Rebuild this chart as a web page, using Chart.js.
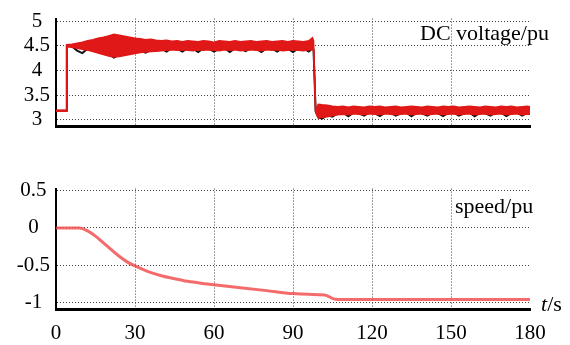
<!DOCTYPE html>
<html>
<head>
<meta charset="utf-8">
<script src="https://cdn.jsdelivr.net/npm/chart.js@4.4.1/dist/chart.umd.min.js"></script>
<style>
  body { margin: 0; background: #fff; }
  #wrap { position: relative; width: 570px; height: 345px; overflow: hidden; font-family: "Liberation Serif", serif; }
  .box { position: absolute; left: 0; width: 570px; }
  .lbl { position: absolute; font-size: 22px; line-height: 22px; color: #000; white-space: nowrap; }
</style>
</head>
<body>
<div id="wrap">
  <div class="box" style="top:0;height:145px"><canvas id="volt" width="570" height="145"></canvas></div>
  <div class="box" style="top:170px;height:175px"><canvas id="speed" width="570" height="175"></canvas></div>
  <div class="lbl" style="left:420px;top:22px">DC voltage/pu</div>
  <div class="lbl" style="left:455px;top:195px">speed/pu</div>
  <div class="lbl" style="left:541px;top:293px"><i>t</i>/s</div>
</div>
<script>
// time axis (s)
var timeTicks = [0, 30, 60, 90, 120, 150, 180];
var voltTicks = [3, 3.5, 4, 4.5, 5];
var speedTicks = [-1, -0.5, 0, 0.5];

// DC voltage: red band (upper / lower edge) + black trace behind it
var voltT = [0, 3.9, 4.1,
  6, 8, 10, 12, 14, 16, 18, 20, 22, 24, 26, 28, 30, 32, 34, 36, 38, 40,
  42, 44, 46, 48, 50, 52, 54, 56, 58, 60, 62, 64, 66, 68, 70, 72, 74, 76, 78, 80,
  82, 84, 86, 88, 90, 92, 94, 96, 97.4, 97.8, 98.6, 99.6,
  101, 103, 105, 107, 109, 111, 113, 115, 117, 119, 121, 123, 125, 127, 129, 131, 133, 135, 137, 139,
  141, 143, 145, 147, 149, 151, 153, 155, 157, 159, 161, 163, 165, 167, 169, 171, 173, 175, 177, 179, 180];
var voltUp = [3.19, 3.19, 4.52,
  4.53, 4.55, 4.57, 4.6, 4.62, 4.65, 4.67, 4.7, 4.73, 4.71, 4.69, 4.67, 4.65, 4.64, 4.62, 4.63, 4.61, 4.6,
  4.61, 4.59, 4.6, 4.58, 4.6, 4.59, 4.58, 4.6, 4.59, 4.57, 4.6, 4.59, 4.58, 4.6, 4.58, 4.59, 4.6, 4.58, 4.59, 4.6,
  4.58, 4.59, 4.6, 4.58, 4.6, 4.59, 4.58, 4.6, 4.66, 4.6, 3.19, 3.31,
  3.3, 3.29, 3.27, 3.26, 3.27, 3.25, 3.27, 3.26, 3.25, 3.27, 3.26, 3.27, 3.25, 3.26, 3.27, 3.25, 3.26, 3.27, 3.26, 3.25,
  3.27, 3.26, 3.25, 3.27, 3.26, 3.27, 3.25, 3.26, 3.27, 3.26, 3.25, 3.27, 3.26, 3.25, 3.27, 3.26, 3.27, 3.25, 3.26, 3.27, 3.26];
var voltLo = [3.17, 3.17, 4.48,
  4.47, 4.45, 4.43, 4.41, 4.38, 4.35, 4.32, 4.29, 4.27, 4.28, 4.3, 4.32, 4.34, 4.36, 4.37, 4.38, 4.39, 4.4,
  4.41, 4.42, 4.41, 4.42, 4.41, 4.4, 4.42, 4.41, 4.42, 4.41, 4.4, 4.42, 4.41, 4.42, 4.4, 4.41, 4.42, 4.41, 4.4, 4.42,
  4.41, 4.42, 4.4, 4.41, 4.42, 4.41, 4.4, 4.42, 4.42, 4.4, 3.15, 3.03,
  3.05, 3.06, 3.08, 3.1, 3.11, 3.1, 3.12, 3.11, 3.1, 3.12, 3.11, 3.1, 3.12, 3.11, 3.1, 3.11, 3.12, 3.1, 3.11, 3.12,
  3.1, 3.11, 3.12, 3.1, 3.11, 3.12, 3.1, 3.11, 3.12, 3.1, 3.11, 3.12, 3.1, 3.11, 3.12, 3.1, 3.11, 3.12, 3.1, 3.11, 3.11];
var voltBlack = [3.18, 3.18, 4.5,
  4.49, 4.4, 4.35, 4.44, 4.41, 4.38, 4.36, 4.33, 4.26, 4.32, 4.34, 4.37, 4.38, 4.4, 4.36, 4.41, 4.42, 4.44,
  4.38, 4.45, 4.44, 4.38, 4.45, 4.44, 4.37, 4.45, 4.44, 4.38, 4.44, 4.45, 4.37, 4.45, 4.44, 4.39, 4.45, 4.44, 4.37, 4.45,
  4.44, 4.38, 4.45, 4.44, 4.37, 4.45, 4.44, 4.38, 4.45, 4.42, 3.17, 3.05,
  3.02, 3.09, 3.06, 3.13, 3.14, 3.07, 3.14, 3.13, 3.08, 3.14, 3.13, 3.07, 3.14, 3.14, 3.08, 3.13, 3.14, 3.07, 3.14, 3.13,
  3.08, 3.14, 3.13, 3.07, 3.14, 3.14, 3.08, 3.13, 3.14, 3.07, 3.14, 3.13, 3.08, 3.14, 3.14, 3.07, 3.13, 3.14, 3.08, 3.14, 3.13];

// rotor speed
var speedT = [0, 9, 12, 15, 18, 21, 24, 27, 30, 35, 40, 45, 50, 55, 60, 70, 80, 90, 96, 102, 106, 110, 180];
var speedV = [0, 0, -0.04, -0.11, -0.2, -0.29, -0.38, -0.455, -0.51, -0.585, -0.64, -0.68, -0.715, -0.74, -0.76,
  -0.8, -0.84, -0.88, -0.89, -0.897, -0.955, -0.958, -0.958];

function pts(xs, ys) {
  return xs.map(function (x, i) { return {x: x, y: ys[i]}; });
}

var tickFont = {family: "Liberation Serif", size: 21};
var gridColor = function (ctx) {
  var v = ctx.tick && ctx.tick.value;
  return (v === 0 || v === 180) ? 'rgba(0,0,0,0)' : '#444';
};

function xScale(showLabels) {
  return {
    type: 'linear', min: 0, max: 180,
    afterBuildTicks: function (s) { s.ticks = timeTicks.map(function (v) { return {value: v}; }); },
    afterFit: function (s) { s.height = showLabels ? 36 : 5; },
    grid: {color: gridColor, lineWidth: 1, drawTicks: false},
    border: {display: true, color: '#000', width: 3, dash: [1, 2]},
    ticks: {display: showLabels, color: '#000', font: tickFont, padding: 12, maxRotation: 0,
            callback: function (v) { return String(v); }}
  };
}

function yScale(min, max, list) {
  return {
    min: min, max: max,
    afterBuildTicks: function (s) { s.ticks = list.map(function (v) { return {value: v}; }); },
    afterFit: function (s) { s.width = 56; },
    grid: {color: '#444', lineWidth: 1, drawTicks: false},
    border: {display: true, color: '#000', width: 2, dash: [1, 2]},
    ticks: {color: '#000', font: tickFont, padding: 6, crossAlign: 'center',
            callback: function (v) { return String(v); }}
  };
}

var common = {
  responsive: false,
  animation: false,
  plugins: {legend: {display: false}, tooltip: {enabled: false}},
  elements: {point: {radius: 0}}
};

new Chart(document.getElementById('volt'), {
  type: 'line',
  data: {
    datasets: [
      {data: pts(voltT, voltUp), borderColor: '#e01818', borderWidth: 1.5, fill: false, order: 1},
      {data: pts(voltT, voltLo), borderColor: '#e01818', borderWidth: 1.5, fill: '-1', backgroundColor: '#e01818', order: 1},
      {data: pts(voltT, voltBlack), borderColor: '#111', borderWidth: 2, fill: false, order: 2}
    ]
  },
  options: Object.assign({}, common, {
    layout: {padding: {top: 12, right: 40, left: 0, bottom: 0}},
    scales: {x: xScale(false), y: yScale(2.863, 5.05, voltTicks)}
  })
});

new Chart(document.getElementById('speed'), {
  type: 'line',
  data: {
    datasets: [
      {data: pts(speedT, speedV), borderColor: 'rgba(240,70,70,0.8)', borderWidth: 3,
       cubicInterpolationMode: 'monotone', fill: false}
    ]
  },
  options: Object.assign({}, common, {
    layout: {padding: {top: 13, right: 40, left: 0, bottom: 0}},
    scales: {x: xScale(true), y: yScale(-1.086, 0.526, speedTicks)}
  })
});
</script>
</body>
</html>
